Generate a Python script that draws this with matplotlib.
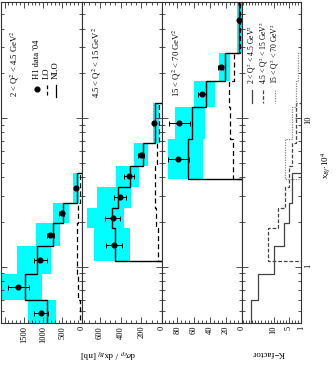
import numpy as np
import matplotlib
matplotlib.use("Agg")
import matplotlib.pyplot as plt
from matplotlib.ticker import MultipleLocator, FixedLocator, FuncFormatter, NullFormatter, LogLocator

plt.rcParams['font.family'] = ['Liberation Serif', 'DejaVu Serif']
plt.rcParams['mathtext.fontset'] = 'stix'

# ---------------- data (x_Bj * 10^4 bin edges, cross sections in nb) -------------
q2_labels = ["2 < Q$^2$ < 4.5 GeV$^2$", "4.5 < Q$^2$ < 15 GeV$^2$", "15 < Q$^2$ < 70 GeV$^2$"]

edges_q1 = [0.40, 0.60, 0.89, 1.38, 1.95, 2.66, 4.26]
data_q1 = [1047, 1641, 1073, 812, 524, 149]
err_q1 = [180, 270, 175, 100, 70, 30]
nlo_q1 = [890, 1466, 1152, 743, 497, 131]
band_lo_q1 = [673, 1021, 804, 568, 332, 63]
band_hi_q1 = [1398, 2094, 1686, 1196, 743, 220]
lo_q1 = [51, 96, 115, 113, 104, 34]
k_q1 = [17.3, 15.3, 10.0, 6.6, 4.8, 3.9]

edges_q2 = [1.09, 1.81, 2.47, 3.45, 4.75, 6.76, 12.6]
data_q2 = [465, 477, 407, 322, 203, 75]
err_q2 = [80, 75, 60, 48, 25, 10]
nlo_q2 = [457, 487, 423, 310, 181, 63]
band_lo_q2 = [310, 368, 303, 220, 133, 26]
band_hi_q2 = [655, 723, 626, 445, 268, 90]
lo_q2 = [38, 55, 67, 65, 46, 25]
k_q2 = [11.9, 8.7, 6.4, 4.8, 3.9, 2.5]

edges_q3 = [3.87, 7.19, 11.8, 17.8, 27.5, 75.0]
data_q3 = [78.8, 77.5, 49.6, 26.6, 4.1]
err_q3 = [13, 13, 5, 2.5, 1]
nlo_q3 = [67, 61.5, 44.1, 21.3, 3.4]
band_lo_q3 = [48.4, 46.3, 33.8, 15.0, 0.4]
band_hi_q3 = [92, 82.9, 59.6, 28.4, 5.9]
lo_q3 = [10.9, 15.0, 15.9, 10.0, 3.0]
k_q3 = [6.1, 4.1, 2.8, 2.1, 1.1]

xbj_range = (0.417, 60.4)
cs_max = [2094, 775, 99]
k_range = (20.4, 1.0)
cs_major = [500, 200, 20]
cs_minor = [100, 50, 5]
cs_labels = [[0, 500, 1000, 1500], [0, 200, 400, 600], [0, 20, 40, 60, 80, 100]]

# ---------------- layout helpers ----------------
W, H = 336, 365
fig = plt.figure(figsize=(W / 100, H / 100), dpi=100)

def px_axes(x0, x1, y0, y1):
    return fig.add_axes([x0 / W, 1 - y1 / H, (x1 - x0) / W, (y1 - y0) / H])

panel_x = [(1, 81.7), (81.7, 162), (162, 242), (242, 301)]
y_top, y_bot = 2, 323
axes = [px_axes(a, b, y_top, y_bot) for a, b in panel_x]

def step_path(edges, vals, base=0.0):
    xs, ys = [base], [edges[0]]
    for i, v in enumerate(vals):
        xs += [v, v]
        ys += [edges[i], edges[i + 1]]
    xs.append(base)
    ys.append(edges[-1])
    return xs, ys

def style_axis(ax):
    ax.set_yscale('log')
    ax.set_ylim(*xbj_range)
    ax.yaxis.set_major_locator(LogLocator(base=10, numticks=10))
    ax.yaxis.set_minor_locator(LogLocator(base=10, subs=np.arange(2, 10), numticks=20))
    ax.yaxis.set_major_formatter(NullFormatter())
    ax.yaxis.set_minor_formatter(NullFormatter())
    ax.tick_params(axis='both', which='both', direction='in', top=True, bottom=True,
                   left=True, right=True, width=0.6, colors='#333333', labelcolor='black')
    ax.tick_params(axis='both', which='major', length=4)
    ax.tick_params(axis='both', which='minor', length=2)
    ax.tick_params(axis='x', labelrotation=90, labelsize=6, pad=2)
    for s in ax.spines.values():
        s.set_linewidth(0.8)
        s.set_color('#333333')

sets = [
    (edges_q1, data_q1, err_q1, nlo_q1, band_lo_q1, band_hi_q1, lo_q1),
    (edges_q2, data_q2, err_q2, nlo_q2, band_lo_q2, band_hi_q2, lo_q2),
    (edges_q3, data_q3, err_q3, nlo_q3, band_lo_q3, band_hi_q3, lo_q3),
]

for i, (ax, (edges, data, err, nlo, blo, bhi, lo)) in enumerate(zip(axes[:3], sets)):
    e = np.array(edges)
    for j in range(len(data)):
        ax.fill_betweenx([e[j], e[j + 1]], blo[j], bhi[j], color='#00FFFF', lw=0, zorder=1)
    xs, ys = step_path(edges, nlo)
    ax.plot(xs, ys, color='black', lw=1.0, zorder=3)
    xs, ys = step_path(edges, lo)
    ax.plot(xs, ys, color='black', lw=0.9, ls=(0, (4, 2.5)), zorder=3)
    centers = np.sqrt(e[:-1] * e[1:])
    ax.errorbar(data, centers, xerr=err, fmt='o', color='black', ms=3.4, elinewidth=0.7,
                capsize=1.8, capthick=0.7, zorder=4)
    ax.set_xlim(cs_max[i], 0)
    style_axis(ax)
    ax.xaxis.set_major_locator(MultipleLocator(cs_major[i]))
    ax.xaxis.set_minor_locator(MultipleLocator(cs_minor[i]))
    labs = cs_labels[i]
    ax.xaxis.set_major_formatter(FuncFormatter(lambda v, p, labs=labs: ('%d' % round(v)) if round(v) in labs else ''))

# Q2 labels positioned in pixels
label_pos = [(15, 97), (97, 98), (177, 97)]
for (x, y), t in zip(label_pos, q2_labels):
    fig.text(x / W, 1 - y / H, t, rotation=90, ha='center', va='bottom', fontsize=6.2)

# legend panel 1
ax1 = axes[0]
def ax_pt(ax, x, y):
    x0, x1 = panel_x[axes.index(ax)]
    return ((x - x0) / (x1 - x0), (y_bot - y) / (y_bot - y_top))

leg_items = [("H1 data '04", 'marker', 36.7), ("LO", 'dash', 47), ("NLO", 'solid', 55.5)]
for text, kind, x in leg_items:
    fx, fy = ax_pt(ax1, x, 79)
    ax1.text(fx, fy, text, transform=ax1.transAxes, rotation=90, ha='center', va='bottom', fontsize=6.2)
    if kind == 'marker':
        mx, my = ax_pt(ax1, x, 88.5)
        ax1.plot([mx], [my], 'o', color='black', ms=3.4, transform=ax1.transAxes)
    else:
        ax_a, ay_a = ax_pt(ax1, x, 84.5)
        ax_b, ay_b = ax_pt(ax1, x, 96.5)
        ax1.plot([ax_a, ax_b], [ay_a, ay_b], color='black', lw=0.9,
                 ls=(0, (3, 2)) if kind == 'dash' else '-', transform=ax1.transAxes)

# K-factor panel
axk = axes[3]
k_sets = [(edges_q1, k_q1, '-', '#444444'), (edges_q2, k_q2, (0, (3, 1.5)), '#444444'), (edges_q3, k_q3, (0, (1, 1)), '#888888')]
for edges, k, ls, c in k_sets:
    xs, ys = step_path(edges, k, base=0.0)
    axk.plot(xs, ys, color=c, lw=0.9, ls=ls)
axk.set_xlim(*k_range)
style_axis(axk)
axk.xaxis.set_major_locator(FixedLocator([1, 5, 10]))
axk.xaxis.set_minor_locator(MultipleLocator(1))
axk.xaxis.set_major_formatter(FuncFormatter(lambda v, p: '%d' % round(v)))
axk.yaxis.set_major_formatter(FuncFormatter(lambda v, p: '%g' % v if v in (1, 10) else ''))
axk.tick_params(axis='y', which='major', labelright=True, labelleft=False, labelrotation=90, labelsize=6, pad=2)

k_leg = [(q2_labels[0], 251.7, '-', '#444444'), (q2_labels[1], 263.3, (0, (3, 1.5)), '#444444'), (q2_labels[2], 275, (0, (1, 1)), '#888888')]
for text, x, ls, c in k_leg:
    fx, fy = ax_pt(axk, x, 84)
    axk.text(fx, fy, text, transform=axk.transAxes, rotation=90, ha='center', va='bottom', fontsize=5.5)
    ax_a, ay_a = ax_pt(axk, x, 90)
    ax_b, ay_b = ax_pt(axk, x, 103)
    axk.plot([ax_a, ax_b], [ay_a, ay_b], color=c, lw=0.9, ls=ls, transform=axk.transAxes)

# axis titles
fig.text(108 / W, 1 - 354 / H, r"d$\sigma_{ep}$ / dx$_{Bj}$ [nb]", rotation=180, ha='center', va='center', fontsize=6.5)
fig.text(268 / W, 1 - 353 / H, "K\u2212factor", rotation=180, ha='center', va='center', fontsize=6.5)
fig.text(326 / W, 1 - 165 / H, r"x$_{Bj}$$\cdot$10$^4$", rotation=90, ha='center', va='center', fontsize=6.5)

fig.savefig("out.png", dpi=100)
